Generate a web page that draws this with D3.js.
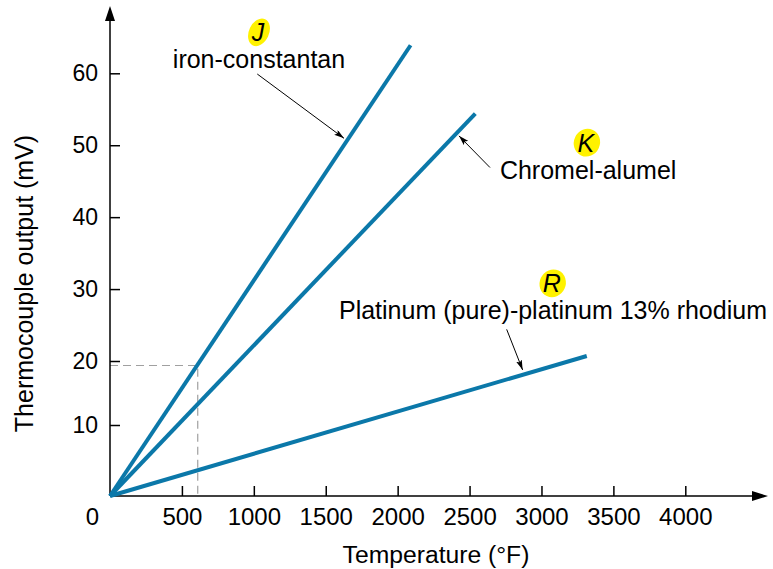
<!DOCTYPE html>
<html>
<head>
<meta charset="utf-8">
<script src="https://cdn.jsdelivr.net/npm/d3@7"></script>
<style>
  html, body { margin: 0; padding: 0; background: #ffffff; }
  svg { display: block; font-family: "Liberation Sans", Arial, Helvetica, sans-serif; }
</style>
</head>
<body>
<svg id="chart" width="773" height="569"></svg>
<script>
// ---------------- data ----------------
const seriesNames = ["J", "K", "R"];
const seriesTempF = [[0, 2090], [0, 2540], [0, 3315]];          // °F
const seriesMilliV = [[0, 63.9], [0, 54.4], [0, 20.7]];          // mV
const xTickValues = [500, 1000, 1500, 2000, 2500, 3000, 3500, 4000];
const yTickValues = [10, 20, 30, 40, 50, 60];
const guideTempF = 610;
const guideMilliV = 19.3;

// annotation (data units)
const annLetters = ["J", "K", "R"];
const annLetterX = [1029, 3309, 3071];
const annLetterY = [64.45, 49.1, 29.55];
const annTexts = ["iron-constantan", "Chromel-alumel", "Platinum (pure)-platinum 13% rhodium"];
const annTextX = [1036, 2711, 3080];
const annTextY = [60.8, 45.3, 25.9];
const annTextAnchor = ["middle", "start", "middle"];
const arrowFromX = [1024, 2642, 2758];
const arrowFromY = [59.9, 46.9, 24.4];
const arrowToX = [1627, 2426, 2869];
const arrowToY = [50.96, 51.3, 18.6];

const xTitle = "Temperature (°F)";
const yTitle = "Thermocouple output (mV)";

// ---------------- chart ----------------
const svg = d3.select("#chart");
const lineColor = "#0b78a9";

const x = d3.scaleLinear().domain([0, 4000]).range([110, 685.3]);
const y = d3.scaleLinear().domain([0, 10, 20, 60]).range([496, 425, 361, 73.3]);

const defs = svg.append("defs");
defs.append("marker")
  .attr("id", "ah")
  .attr("viewBox", "0 0 10 6")
  .attr("refX", 10).attr("refY", 3)
  .attr("markerWidth", 10).attr("markerHeight", 6)
  .attr("markerUnits", "userSpaceOnUse")
  .attr("orient", "auto")
  .append("path").attr("d", "M0,0 L10,3 L0,6 L2,3 Z").attr("fill", "#000");

// guide dashed lines
svg.append("path")
  .attr("d", `M${x(0)},${y(guideMilliV)} H${x(guideTempF)} V${y(0)}`)
  .attr("fill", "none").attr("stroke", "#a0a0a0").attr("stroke-width", 1.2)
  .attr("stroke-dasharray", "8,5");

// axes
const xAxis = d3.axisBottom(x).tickValues(xTickValues).tickSize(-10).tickPadding(12).tickFormat(d3.format("d"));
const yAxis = d3.axisLeft(y).tickValues(yTickValues).tickSize(-10).tickPadding(12).tickFormat(d3.format("d"));

const gx = svg.append("g").attr("transform", `translate(0,${y(0)})`).call(xAxis);
gx.select(".domain").remove();
gx.selectAll(".tick line").attr("stroke", "#000").attr("stroke-width", 1.5);
gx.selectAll(".tick text").attr("font-size", 24).attr("fill", "#000").attr("font-family", null);

const gy = svg.append("g").attr("transform", `translate(${x(0)},0)`).call(yAxis);
gy.select(".domain").remove();
gy.selectAll(".tick line").attr("stroke", "#000").attr("stroke-width", 1.5);
gy.selectAll(".tick text").attr("font-size", 23).attr("fill", "#000").attr("font-family", null);

// axis lines with arrowheads
svg.append("line").attr("x1", x(0)).attr("y1", y(0)).attr("x2", 756).attr("y2", y(0))
  .attr("stroke", "#000").attr("stroke-width", 1.5);
svg.append("path").attr("d", `M768,${y(0)} L752,${y(0) - 5} L752,${y(0) + 5} Z`).attr("fill", "#000");
svg.append("line").attr("x1", x(0)).attr("y1", y(0)).attr("x2", x(0)).attr("y2", 18)
  .attr("stroke", "#000").attr("stroke-width", 1.5);
svg.append("path").attr("d", `M${x(0)},6 L${x(0) - 5},21 L${x(0) + 5},21 Z`).attr("fill", "#000");

// origin label
svg.append("text").attr("x", x(0) - 17.5).attr("y", 525).attr("text-anchor", "middle")
  .attr("font-size", 24).text("0");

// series lines
const lineGen = d3.line().x(d => x(d[0])).y(d => y(d[1]));
seriesNames.forEach((name, i) => {
  const pts = seriesTempF[i].map((t, j) => [t, seriesMilliV[i][j]]);
  svg.append("path").datum(pts).attr("d", lineGen)
    .attr("fill", "none").attr("stroke", lineColor).attr("stroke-width", 4)
    .attr("stroke-linecap", "butt");
});

// annotations
annLetters.forEach((L, i) => {
  const cx = x(annLetterX[i]), by = y(annLetterY[i]);
  svg.append("ellipse")
    .attr("cx", 0).attr("cy", 0)
    .attr("rx", i === 0 ? 10 : 13).attr("ry", i === 0 ? 14.5 : 14)
    .attr("transform", `translate(${cx + 1},${by - 9}) rotate(25)`)
    .attr("fill", "#fff200");
  svg.append("text").attr("x", cx).attr("y", by).attr("text-anchor", "middle")
    .attr("font-size", 25).attr("font-style", "italic").attr("fill", "#000").text(L);
});
annTexts.forEach((t, i) => {
  svg.append("text").attr("x", x(annTextX[i])).attr("y", y(annTextY[i]))
    .attr("text-anchor", annTextAnchor[i]).attr("font-size", 25).attr("fill", "#000").text(t);
  svg.append("line")
    .attr("x1", x(arrowFromX[i])).attr("y1", y(arrowFromY[i]))
    .attr("x2", x(arrowToX[i])).attr("y2", y(arrowToY[i]))
    .attr("stroke", "#000").attr("stroke-width", 1)
    .attr("marker-end", "url(#ah)");
});

// axis titles
svg.append("text").attr("x", 436).attr("y", 562.7).attr("text-anchor", "middle")
  .attr("font-size", 24.7).attr("fill", "#000").text(xTitle);
svg.append("text").attr("transform", "translate(33,283.5) rotate(-90)")
  .attr("text-anchor", "middle").attr("font-size", 25).attr("fill", "#000").text(yTitle);
</script>
</body>
</html>
